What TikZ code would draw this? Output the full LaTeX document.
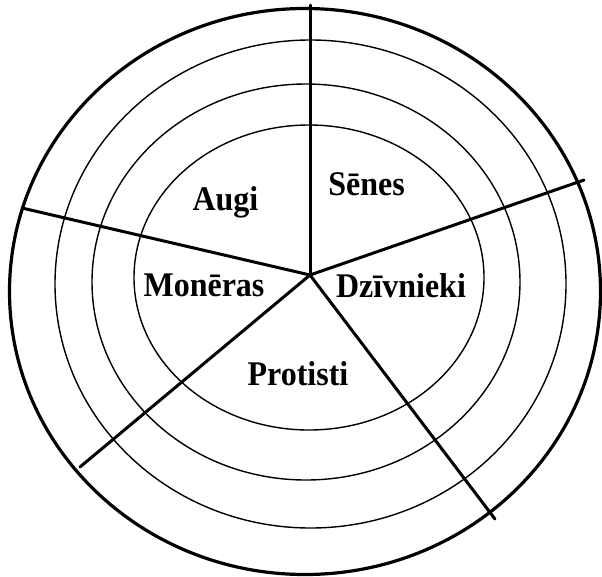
\documentclass[tikz,border=0pt]{standalone}
\usepackage{fontspec}
\setmainfont{Liberation Serif}
\newcommand{\tallbold}[1]{\scalebox{1}[1.08]{#1}}
\tikzset{
  ring/.style={line width=1.4pt,black},
  outerring/.style={line width=3.2pt,black},
  spoke/.style={line width=3pt,black,line cap=round},
  lbl/.style={font=\fontsize{32}{36}\selectfont\bfseries,anchor=base,inner sep=0pt}
}
\begin{document}
\begin{tikzpicture}[x=1pt,y=-1pt]
\useasboundingbox (0,0) rectangle (602,576);
% rings
\draw[outerring] (305,291.5) ellipse [x radius=295.5, y radius=283];
\draw[ring] (310.5,284) ellipse [x radius=255.5, y radius=244];
\draw[ring] (306,282) ellipse [x radius=214, y radius=198];
\draw[ring] (309,277.5) ellipse [x radius=175, y radius=152.5];
% spokes
\coordinate (c) at (310,275);
\coordinate (eup) at (310,5);
\coordinate (eright) at (584,180);
\coordinate (eleft) at (22,208);
\coordinate (elowl) at (80,467);
\coordinate (elowr) at (495,519);
\draw[spoke] (c) -- (eup);
\draw[spoke] (c) -- (eright);
\draw[spoke] (c) -- (eleft);
\draw[spoke] (c) -- (elowl);
\draw[spoke] (c) -- (elowr);
% labels
\node[lbl] (augi) at (225.5,210) {\tallbold{Augi}};
\node[lbl] (senes) at (366.5,195) {\tallbold{Sēnes}};
\node[lbl] (moneras) at (204,296) {\tallbold{Monēras}};
\node[lbl] (dzivnieki) at (401,297) {\tallbold{Dzīvnieki}};
\node[lbl] (protisti) at (298,385) {\tallbold{Protisti}};
\end{tikzpicture}
\end{document}
